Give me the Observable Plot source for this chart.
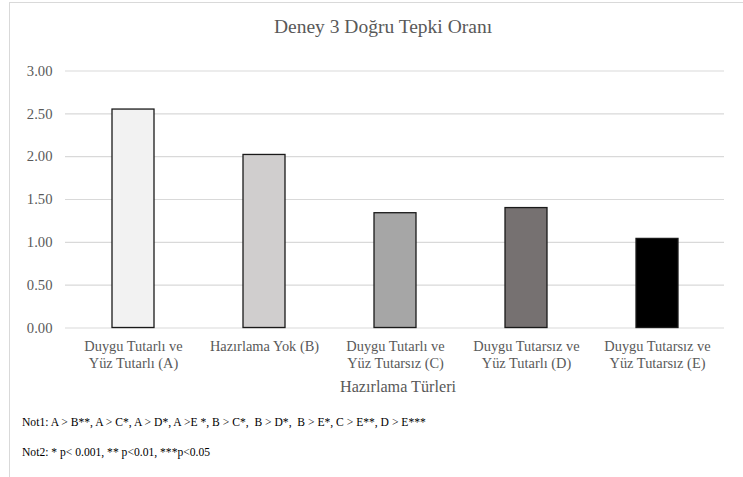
<!DOCTYPE html>
<html>
<head>
<meta charset="utf-8">
<script src="https://cdn.jsdelivr.net/npm/d3@7"></script>
<script src="https://cdn.jsdelivr.net/npm/@observablehq/plot@0.6"></script>
<style>
  html, body { margin: 0; padding: 0; background: #fff; }
  #wrap { position: relative; width: 743px; height: 477px; overflow: hidden; font-family: "Liberation Serif", "Times New Roman", serif; }
  #border { position: absolute; left: 9px; top: 2px; width: 760px; height: 500px; border-left: 1px solid #d9d9d9; border-top: 1px solid #d9d9d9; }
  #title { position: absolute; left: 0; width: 766px; top: 15px; text-align: center; font-size: 19.5px; line-height: 24px; color: #595959; }
  #xtitle { position: absolute; left: 0; width: 796px; top: 377px; text-align: center; font-size: 16.2px; line-height: 20px; color: #595959; }
  .note { position: absolute; left: 22px; font-size: 11.6px; line-height: 14px; color: #000; white-space: pre; }
  #plot { position: absolute; left: 0; top: 0; }
</style>
</head>
<body>
<div id="wrap">
  <div id="border"></div>
  <div id="plot"></div>
  <div id="title"></div>
  <div id="xtitle"></div>
  <div class="note" id="note1" style="top:416px"></div>
  <div class="note" id="note2" style="top:446px"></div>
</div>
<script>
const title = "Deney 3 Doğru Tepki Oranı";
const xTitle = "Hazırlama Türleri";
const categories = ["A", "B", "C", "D", "E"];
const categoryLabels = [
  "Duygu Tutarlı ve\nYüz Tutarlı (A)",
  "Hazırlama Yok (B)",
  "Duygu Tutarlı ve\nYüz Tutarsız (C)",
  "Duygu Tutarsız ve\nYüz Tutarlı (D)",
  "Duygu Tutarsız ve\nYüz Tutarsız (E)"
];
const values = [2.55, 2.02, 1.34, 1.40, 1.04];
const colors = ["#f2f2f2", "#d0cece", "#a6a6a6", "#767171", "#000000"];
const yTicks = [0, 0.5, 1, 1.5, 2, 2.5, 3];
const note1 = "Not1: A > B**, A > C*, A > D*, A >E *, B > C*,  B > D*,  B > E*, C > E**, D > E***";
const note2 = "Not2: * p< 0.001, ** p<0.01, ***p<0.05";

const data = categories.map((c, i) => ({cat: c, value: values[i], color: colors[i]}));
const labelOf = Object.fromEntries(categories.map((c, i) => [c, categoryLabels[i]]));

const chart = Plot.plot({
  width: 743,
  height: 400,
  marginTop: 70.5,
  marginBottom: 72.5,
  marginLeft: 65,
  marginRight: 19,
  style: {fontFamily: '"Liberation Serif", "Times New Roman", serif', color: "#595959", background: "transparent"},
  x: {domain: categories, paddingInner: 0.68, paddingOuter: 0.34},
  y: {domain: [0, 3]},
  marks: [
    Plot.ruleY(yTicks, {stroke: "#d9d9d9", strokeWidth: 1.2}),
    Plot.barY(data, {x: "cat", y: "value", fill: "color", stroke: "#1a1a1a", strokeWidth: 1.3}),
    Plot.axisY({ticks: yTicks, tickFormat: d3.format(".2f"), tickSize: 0, tickPadding: 13, fontSize: 14.67, label: null}),
    Plot.axisX({tickFormat: d => labelOf[d], tickSize: 0, tickPadding: 11, fontSize: 14.4, lineHeight: 1.18, label: null})
  ]
});
document.getElementById("plot").appendChild(chart);
document.getElementById("title").textContent = title;
document.getElementById("xtitle").textContent = xTitle;
document.getElementById("note1").textContent = note1;
document.getElementById("note2").textContent = note2;
</script>
</body>
</html>
